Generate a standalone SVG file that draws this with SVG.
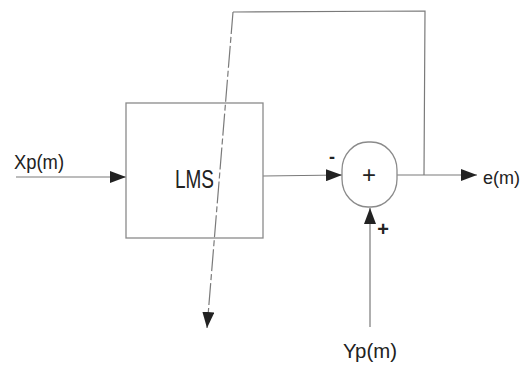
<svg xmlns="http://www.w3.org/2000/svg" width="523" height="367" viewBox="0 0 523 367">
<style>
.ln{stroke:#7a7a7a;stroke-width:1.2;fill:none}
.bx{stroke:#8a8a8a;stroke-width:1.3;fill:none}
.t{font-family:"Liberation Sans",Arial,sans-serif;fill:#222}
</style>
<defs>
<marker id="ah" markerWidth="16" markerHeight="12" refX="16" refY="6" orient="auto" markerUnits="userSpaceOnUse">
<path d="M0,0 L16,6 L0,12 Z" fill="#222"/>
</marker>
</defs>
<rect width="523" height="367" fill="#fff"/>
<g id="connectors">
<line class="ln" x1="16" y1="177" x2="126" y2="177" marker-end="url(#ah)"/>
<line class="ln" x1="263" y1="176" x2="342" y2="175" marker-end="url(#ah)"/>
<line class="ln" x1="397" y1="175" x2="477" y2="175" marker-end="url(#ah)"/>
<polyline class="ln" points="424,175 425,11 233,12"/>
<line class="ln" x1="233" y1="12" x2="207" y2="328" stroke-dasharray="22,3,6,3" marker-end="url(#ah)"/>
<line class="ln" x1="370" y1="327" x2="370" y2="208" marker-end="url(#ah)"/>
</g>
<g id="lms">
<rect class="bx" x="126" y="103" width="137" height="135"/>
<text class="t" x="175" y="188" font-size="25" textLength="39" lengthAdjust="spacingAndGlyphs">LMS</text>
</g>
<g id="sum">
<rect class="bx" x="342" y="142" width="55" height="65" rx="26" ry="28"/>
<text class="t" x="369" y="183" font-size="24" text-anchor="middle">+</text>
<text class="t" x="332" y="163" font-size="18" text-anchor="middle" font-weight="bold">-</text>
<text class="t" x="383" y="236" font-size="20" text-anchor="middle" font-weight="bold">+</text>
</g>
<g id="xp">
<text class="t" x="14" y="169" font-size="21" textLength="50" lengthAdjust="spacingAndGlyphs">Xp(m)</text>
</g>
<g id="em">
<text class="t" x="483" y="184" font-size="19" textLength="37" lengthAdjust="spacingAndGlyphs">e(m)</text>
</g>
<g id="yp">
<text class="t" x="343" y="358" font-size="21" textLength="54" lengthAdjust="spacingAndGlyphs">Yp(m)</text>
</g>
</svg>
